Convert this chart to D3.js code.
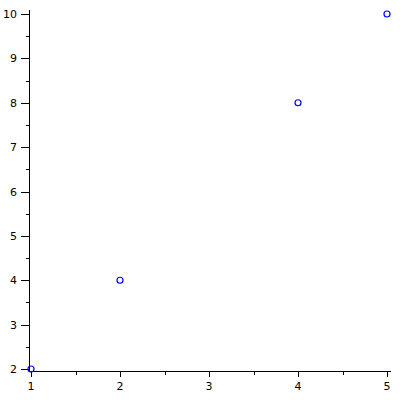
<!DOCTYPE html>
<html>
<head>
<meta charset="utf-8">
<script src="https://cdn.jsdelivr.net/npm/d3@7"></script>
<style>
  body { margin:0; background:#fff; }
  text { font-family: "DejaVu Sans", "Liberation Sans", sans-serif; font-size:11px; fill:#000; }
</style>
</head>
<body>
<svg id="chart" width="400" height="400"></svg>
<script>
// data
const xs = [1, 2, 4, 5];
const ys = [2, 4, 8, 10];
const xTicks = [1, 2, 3, 4, 5];
const yTicks = [2, 3, 4, 5, 6, 7, 8, 9, 10];

const svg = d3.select('#chart');

// scales
const x = d3.scaleLinear().domain([1, 5]).range([31, 387]);
const y = d3.scaleLinear().domain([2, 10]).range([369, 14]);

const axisY = 371, axisX = 29;

// x axis
const gx = svg.append('g').attr('transform', `translate(0,${axisY})`);
gx.append('line').attr('x1', axisX).attr('x2', 391).attr('y1', 0.5).attr('y2', 0.5)
  .attr('stroke', '#000');
xTicks.forEach(t => {
  gx.append('line').attr('x1', Math.round(x(t)) + 0.5).attr('x2', Math.round(x(t)) + 0.5)
    .attr('y1', 0).attr('y2', 6).attr('stroke', '#000');
  gx.append('text').attr('x', x(t)).attr('y', 19).attr('text-anchor', 'middle').text(t);
});
xTicks.slice(0, -1).forEach(t => {
  const xm = Math.round(x(t + 0.5)) + 0.5;
  gx.append('line').attr('x1', xm).attr('x2', xm).attr('y1', 0).attr('y2', 4).attr('stroke', '#000');
});

// y axis
const gy = svg.append('g').attr('transform', `translate(${axisX},0)`);
gy.append('line').attr('x1', 0.5).attr('x2', 0.5).attr('y1', 10).attr('y2', axisY)
  .attr('stroke', '#000');
yTicks.forEach(t => {
  gy.append('line').attr('x1', -8).attr('x2', 0).attr('y1', Math.round(y(t)) + 0.5)
    .attr('y2', Math.round(y(t)) + 0.5).attr('stroke', '#000');
  gy.append('text').attr('x', -12).attr('y', y(t) + 4).attr('text-anchor', 'end').text(t);
});
yTicks.slice(0, -1).forEach(t => {
  const ym = Math.round(y(t + 0.5)) + 0.5;
  gy.append('line').attr('x1', -3).attr('x2', 0).attr('y1', ym).attr('y2', ym).attr('stroke', '#000');
});

// points
svg.append('g').selectAll('circle')
  .data(xs.map((v, i) => [v, ys[i]]))
  .join('circle')
  .attr('cx', d => x(d[0]))
  .attr('cy', d => y(d[1]))
  .attr('r', 3)
  .attr('fill', 'none')
  .attr('stroke', '#0000ff')
  .attr('stroke-width', 1.2);
</script>
</body>
</html>
